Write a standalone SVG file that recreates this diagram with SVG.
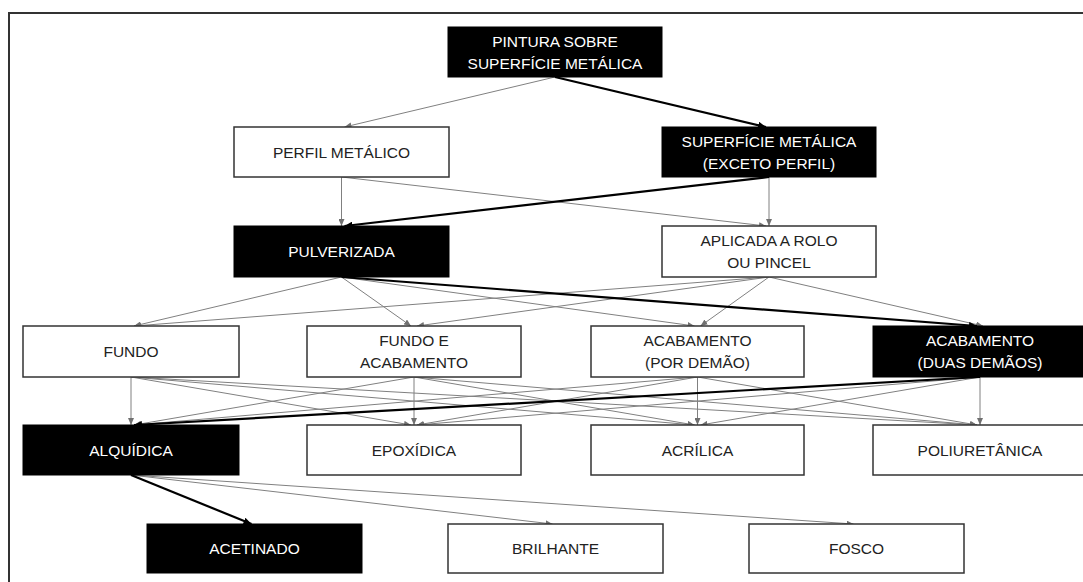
<svg xmlns="http://www.w3.org/2000/svg" width="1083" height="582" viewBox="0 0 1083 582">
<defs>
<style>
.bw{fill:#ffffff;stroke:#333333;stroke-width:1.5}
.bb{fill:#000000;stroke:#000000;stroke-width:1}
.tw{font-family:"Liberation Sans",Arial,sans-serif;font-size:15.5px;fill:#222222;text-anchor:middle}
.tb{font-family:"Liberation Sans",Arial,sans-serif;font-size:15.5px;fill:#ffffff;text-anchor:middle}
.thin{fill:none;stroke:#808080;stroke-width:1;marker-end:url(#ah)}
.bold{fill:none;stroke:#000000;stroke-width:2.2;marker-end:url(#ahb)}
</style>
<marker id="ah" markerUnits="userSpaceOnUse" markerWidth="7" markerHeight="6" refX="7" refY="3" orient="auto"><path d="M0,0 L7,3 L0,6 z" fill="#707070"/></marker>
<marker id="ahb" markerUnits="userSpaceOnUse" markerWidth="8" markerHeight="7" refX="8" refY="3.5" orient="auto"><path d="M0,0 L8,3.5 L0,7 z" fill="#000000"/></marker>
</defs>
<rect x="9" y="13" width="1090" height="590" fill="#ffffff" stroke="#333333" stroke-width="2"/>
<g id="connectors">
<path class="thin" d="M555,77 L344.5,127"/>
<path class="thin" d="M341.5,177 L341.5,226"/>
<path class="thin" d="M341.5,177 L766,226"/>
<path class="thin" d="M769,177 L769,226"/>
<path class="thin" d="M341.5,277 L134,326"/>
<path class="thin" d="M341.5,277 L411,326"/>
<path class="thin" d="M341.5,277 L694.5,326"/>
<path class="thin" d="M769,277 L134,326"/>
<path class="thin" d="M769,277 L417,326"/>
<path class="thin" d="M769,277 L700.5,326"/>
<path class="thin" d="M769,277 L983,326"/>
<path class="thin" d="M131,377 L131,425"/>
<path class="thin" d="M131,377 L411,425"/>
<path class="thin" d="M131,377 L694.5,425"/>
<path class="thin" d="M131,377 L977,425"/>
<path class="thin" d="M414,377 L134,425"/>
<path class="thin" d="M414,377 L414,425"/>
<path class="thin" d="M414,377 L694.5,425"/>
<path class="thin" d="M414,377 L977,425"/>
<path class="thin" d="M697.5,377 L134,425"/>
<path class="thin" d="M697.5,377 L417,425"/>
<path class="thin" d="M697.5,377 L697.5,425"/>
<path class="thin" d="M697.5,377 L977,425"/>
<path class="thin" d="M980,377 L417,425"/>
<path class="thin" d="M980,377 L700.5,425"/>
<path class="thin" d="M980,377 L980,425"/>
<path class="thin" d="M131,475 L552.5,524"/>
<path class="thin" d="M131,475 L853.5,524"/>
<path class="bold" d="M555,77 L766,127"/>
<path class="bold" d="M769,177 L344.5,226"/>
<path class="bold" d="M341.5,277 L977,326"/>
<path class="bold" d="M980,377 L134,425"/>
<path class="bold" d="M131,475 L251.5,524"/>
</g>
<g id="n0"><rect class="bb" x="448" y="27" width="214" height="50"/><text class="tb" x="555" y="46.5">PINTURA SOBRE</text><text class="tb" x="555" y="68.5">SUPERFÍCIE METÁLICA</text></g>
<g id="n1"><rect class="bw" x="234" y="127" width="215" height="50"/><text class="tw" x="341.5" y="157.5">PERFIL METÁLICO</text></g>
<g id="n2"><rect class="bb" x="662" y="127" width="214" height="50"/><text class="tb" x="769" y="146.5">SUPERFÍCIE METÁLICA</text><text class="tb" x="769" y="168.5">(EXCETO PERFIL)</text></g>
<g id="n3"><rect class="bb" x="234" y="226" width="215" height="51"/><text class="tb" x="341.5" y="257">PULVERIZADA</text></g>
<g id="n4"><rect class="bw" x="662" y="226" width="214" height="51"/><text class="tw" x="769" y="246">APLICADA A ROLO</text><text class="tw" x="769" y="268">OU PINCEL</text></g>
<g id="n5"><rect class="bw" x="23" y="326" width="216" height="51"/><text class="tw" x="131" y="357">FUNDO</text></g>
<g id="n6"><rect class="bw" x="307" y="326" width="214" height="51"/><text class="tw" x="414" y="346">FUNDO E</text><text class="tw" x="414" y="368">ACABAMENTO</text></g>
<g id="n7"><rect class="bw" x="591" y="326" width="213" height="51"/><text class="tw" x="697.5" y="346">ACABAMENTO</text><text class="tw" x="697.5" y="368">(POR DEMÃO)</text></g>
<g id="n8"><rect class="bb" x="873" y="326" width="214" height="51"/><text class="tb" x="980" y="346">ACABAMENTO</text><text class="tb" x="980" y="368">(DUAS DEMÃOS)</text></g>
<g id="n9"><rect class="bb" x="23" y="425" width="216" height="50"/><text class="tb" x="131" y="455.5">ALQUÍDICA</text></g>
<g id="n10"><rect class="bw" x="307" y="425" width="214" height="50"/><text class="tw" x="414" y="455.5">EPOXÍDICA</text></g>
<g id="n11"><rect class="bw" x="591" y="425" width="213" height="50"/><text class="tw" x="697.5" y="455.5">ACRÍLICA</text></g>
<g id="n12"><rect class="bw" x="873" y="425" width="214" height="50"/><text class="tw" x="980" y="455.5">POLIURETÂNICA</text></g>
<g id="n13"><rect class="bb" x="147" y="524" width="215" height="49"/><text class="tb" x="254.5" y="554">ACETINADO</text></g>
<g id="n14"><rect class="bw" x="448" y="524" width="215" height="49"/><text class="tw" x="555.5" y="554">BRILHANTE</text></g>
<g id="n15"><rect class="bw" x="749" y="524" width="215" height="49"/><text class="tw" x="856.5" y="554">FOSCO</text></g>
</svg>
